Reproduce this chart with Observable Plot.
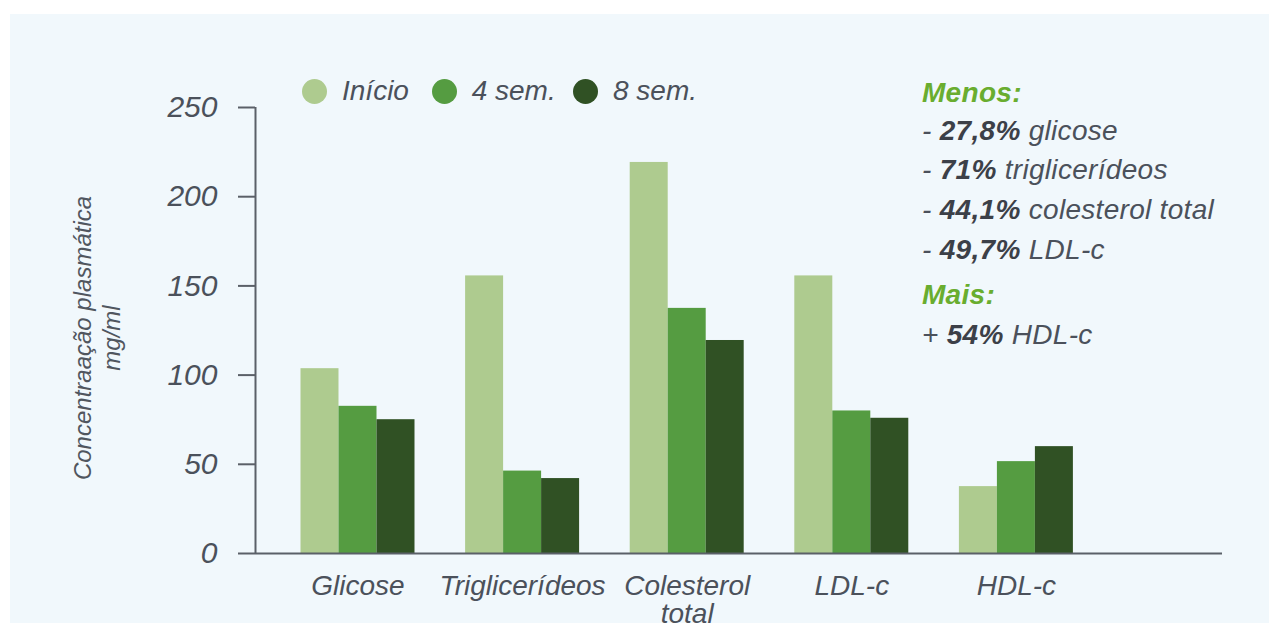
<!DOCTYPE html>
<html>
<head>
<meta charset="utf-8">
<script src="https://cdn.jsdelivr.net/npm/d3@7"></script>
<script src="https://cdn.jsdelivr.net/npm/@observablehq/plot@0.6"></script>
<style>
  html, body { margin: 0; padding: 0; background: #ffffff; }
  body { width: 1269px; height: 623px; overflow: hidden; position: relative;
         font-family: "Liberation Sans", Arial, sans-serif; font-style: italic; color: #4b515b; }
  #panel { position: absolute; left: 10px; top: 14px; right: 0; bottom: 0; background: #f1f8fc; }
  .layer { position: absolute; left: 0; top: 0; }
  #axes { pointer-events: none; }
  .legend-item { position: absolute; top: 74px; height: 34px; display: flex; align-items: center; font-size: 28px; white-space: nowrap; }
  .legend-dot { width: 25px; height: 25px; border-radius: 50%; margin-right: 15px; flex: none; }
  .note { position: absolute; left: 922px; font-size: 28px; line-height: 28px; letter-spacing: 0.3px; white-space: nowrap; color: #4b515b; }
  .note b { font-weight: bold; color: #3c4048; }
  .note.head { color: #69ad2f; font-weight: bold; }
  #ytitle { position: absolute; width: 340px; left: -73px; top: 309px; height: 58px; line-height: 29px;
            font-size: 24px; text-align: center; transform: rotate(-90deg); transform-origin: 50% 50%; color: #50565f; }
</style>
</head>
<body>
<div id="panel"></div>
<div id="bars" class="layer"></div>
<div id="axes" class="layer"></div>
<div id="ytitle">Concentraação plasmática<br>mg/ml</div>
<script>
// ---- Data ----
const categories = ["Glicose", "Triglicerídeos", "Colesterol total", "LDL-c", "HDL-c"];
const series = ["Início", "4 sem.", "8 sem."];
const inicio = [103.6, 155.6, 219.2, 155.6, 37.5];
const sem4   = [82.5, 46.2, 137.4, 79.9, 51.5];
const sem8   = [75.0, 42.0, 119.4, 75.8, 59.9];
const seriesColors = ["#aecb8f", "#559c41", "#305124"];
const yTicks = [0, 50, 100, 150, 200, 250];
const noteHeads = ["Menos:", "Mais:"];
const noteLess = [["27,8%", "glicose"], ["71%", "triglicerídeos"], ["44,1%", "colesterol total"], ["49,7%", "LDL-c"]];
const noteMore = [["54%", "HDL-c"]];

const values = [inicio, sem4, sem8];
const data = categories.flatMap((cat, i) => series.map((s, j) => ({cat, series: s, value: values[j][i]})));

const axisColor = "#5b6068";
const textColor = "#4b515b";
const fontFamily = "'Liberation Sans', Arial, sans-serif";

const common = {
  width: 1269,
  height: 623,
  marginLeft: 255,
  marginRight: 47,
  marginTop: 107,
  marginBottom: 70,
  style: {background: "transparent", fontFamily, fontStyle: "italic", color: textColor}
};

// Bars (faceted by category)
const barsChart = Plot.plot({
  ...common,
  fx: {domain: categories, range: [275.2, 1098.2], paddingInner: 0, paddingOuter: 0, round: false, label: null},
  x: {domain: series, paddingInner: 0, paddingOuter: 0.666, round: false, axis: null},
  y: {domain: [0, 250], axis: null},
  color: {domain: series, range: seriesColors},
  marks: [
    Plot.barY(data, {fx: "cat", x: "series", y: "value", fill: "series"}),
    Plot.axisFx({anchor: "bottom", tickSize: 0, tickPadding: 22, fontSize: 28, fill: textColor, label: null,
                 tickFormat: d => d.replace(" ", "\n")})
  ]
});
document.getElementById("bars").appendChild(barsChart);

// Axes (same frame, not faceted)
const axesChart = Plot.plot({
  ...common,
  x: {domain: [0, 1], axis: null},
  y: {domain: [0, 250], axis: null},
  marks: [
    Plot.ruleX([0], {stroke: axisColor, strokeWidth: 2}),
    Plot.ruleY([0], {stroke: axisColor, strokeWidth: 2}),
    Plot.axisY({ticks: yTicks, tickSize: 17, tickPadding: 21, fontSize: 30, stroke: axisColor, strokeWidth: 2, fill: textColor, label: null})
  ]
});
document.getElementById("axes").appendChild(axesChart);

// ---- Legend ----
const legendLefts = [302, 431.7, 573];
series.forEach((s, i) => {
  const item = document.createElement("div");
  item.className = "legend-item";
  item.style.left = legendLefts[i] + "px";
  const dot = document.createElement("span");
  dot.className = "legend-dot";
  dot.style.background = seriesColors[i];
  const label = document.createElement("span");
  label.textContent = s;
  item.appendChild(dot);
  item.appendChild(label);
  document.body.appendChild(item);
});

// ---- Annotation ----
function addLine(baseline, html, cls) {
  const d = document.createElement("div");
  d.className = "note" + (cls ? " " + cls : "");
  d.style.top = (baseline - 24) + "px";
  d.innerHTML = html;
  document.body.appendChild(d);
}
addLine(103, noteHeads[0], "head");
const lessBaselines = [141, 180, 220, 260];
noteLess.forEach(([p, t], i) => addLine(lessBaselines[i], `- <b>${p}</b> ${t}`));
addLine(305, noteHeads[1], "head");
noteMore.forEach(([p, t]) => addLine(345, `+ <b>${p}</b> ${t}`));
</script>
</body>
</html>
